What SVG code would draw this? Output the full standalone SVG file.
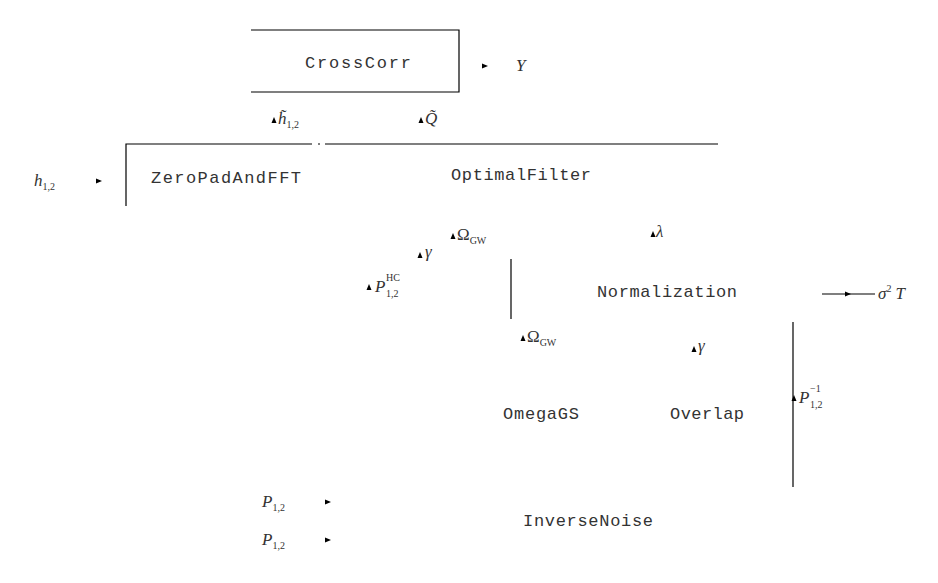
<svg xmlns="http://www.w3.org/2000/svg" width="938" height="583" viewBox="0 0 938 583">
<style>
.n{font-family:"Liberation Mono","DejaVu Sans Mono",monospace;font-size:17px;fill:#333;text-anchor:middle}
.m{font-family:"Liberation Serif","DejaVu Serif",serif;font-style:italic;font-size:17px;fill:#333}
.u{font-family:"Liberation Serif","DejaVu Serif",serif;font-size:17px;fill:#333}
.s{font-family:"Liberation Serif","DejaVu Serif",serif;font-size:10px;font-style:normal;fill:#333}
.ln{stroke:#000;stroke-width:1.2;fill:none}
.ah{fill:#000}
</style>
<defs>
<path id="ar" d="M-3,-2.5 L3,0 L-3,2.5 Z" class="ah"/>
<path id="au" d="M-2.5,3 L0,-3 L2.5,3 Z" class="ah"/>
</defs>
<rect width="938" height="583" fill="#fff"/>
<g id="connectors">
<path class="ln" d="M251,30 H459 V92 H251"/>
<path class="ln" d="M126,206 V144 H312 M318,144 H320 M325,144 H718"/>
<path class="ln" d="M511,259 V319"/>
<path class="ln" d="M822,294 H875"/>
<path class="ln" d="M793,322 V487"/>
<use href="#ar" x="485" y="66"/>
<use href="#au" x="274" y="120"/>
<use href="#au" x="421" y="120"/>
<use href="#ar" x="99" y="181"/>
<use href="#au" x="453" y="236"/>
<use href="#au" x="420" y="255"/>
<use href="#au" x="369" y="287"/>
<use href="#au" x="523" y="338"/>
<use href="#au" x="653" y="234"/>
<use href="#ar" x="848" y="294"/>
<use href="#au" x="694" y="349"/>
<use href="#au" x="794" y="398"/>
<use href="#ar" x="328" y="502"/>
<use href="#ar" x="328" y="540"/>
<text class="m" x="516" y="71">Y</text>
<text class="m" x="278" y="124">h̃<tspan class="s" dy="4">1,2</tspan></text>
<text class="m" x="425" y="124">Q̃</text>
<text class="m" x="34" y="186">h<tspan class="s" dy="4">1,2</tspan></text>
<text class="u" x="457" y="240">Ω<tspan class="s" dy="4">GW</tspan></text>
<text class="m" x="425" y="257">γ</text>
<text class="m" x="375" y="292">P</text>
<text class="s" x="386" y="281">HC</text>
<text class="s" x="386" y="297">1,2</text>
<text class="u" x="527" y="342">Ω<tspan class="s" dy="4">GW</tspan></text>
<text class="m" x="656" y="237">λ</text>
<text class="m" x="698" y="351">γ</text>
<text class="m" x="878" y="299">σ<tspan class="s" dy="-7">2</tspan><tspan dx="4" dy="7">T</tspan></text>
<text class="m" x="799" y="403">P</text>
<text class="s" x="810" y="392">−1</text>
<text class="s" x="810" y="408">1,2</text>
<text class="m" x="262" y="507">P<tspan class="s" dy="4">1,2</tspan></text>
<text class="m" x="262" y="545">P<tspan class="s" dy="4">1,2</tspan></text>
</g>
<g id="CrossCorr"><text class="n" x="358" y="68" textLength="106">CrossCorr</text></g>
<g id="ZeroPadAndFFT"><text class="n" x="226" y="183" textLength="150">ZeroPadAndFFT</text></g>
<g id="OptimalFilter"><text class="n" x="521" y="180" textLength="140">OptimalFilter</text></g>
<g id="Normalization"><text class="n" x="667" y="297" textLength="140">Normalization</text></g>
<g id="OmegaGS"><text class="n" x="541" y="419" textLength="76">OmegaGS</text></g>
<g id="Overlap"><text class="n" x="707" y="419" textLength="74">Overlap</text></g>
<g id="InverseNoise"><text class="n" x="588" y="526" textLength="130">InverseNoise</text></g>
</svg>
